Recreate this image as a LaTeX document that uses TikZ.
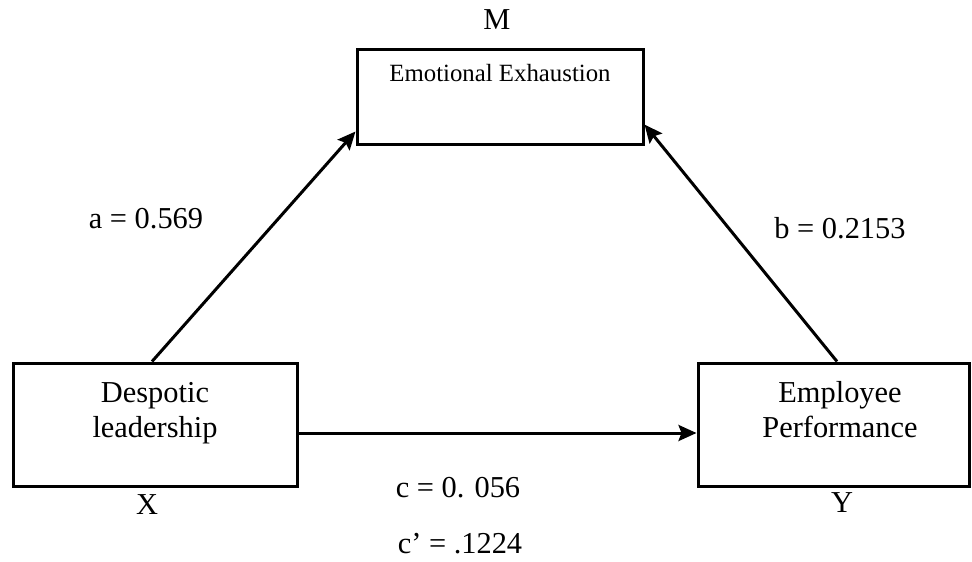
\documentclass[tikz,border=0pt]{standalone}
\usepackage{fontspec}
\setmainfont{Liberation Serif}
\usetikzlibrary{arrows.meta}
\usetikzlibrary{positioning}

\begin{document}
\begin{tikzpicture}[x=0.5pt, y=-0.5pt,
    varbox/.style={draw, line width=1.5pt, minimum width=142pt, minimum height=61.5pt, inner sep=0pt},
    boxtext/.style={align=center, font=\fontsize{15.2}{17.5}\selectfont, inner sep=0pt},
    lbl/.style={font=\fontsize{15.2}{17.5}\selectfont, inner sep=0pt},
    path/.style={-{Stealth[length=9pt,width=8pt,inset=1.5pt]}, line width=1.5pt}]
    \useasboundingbox (0,0) rectangle (972,561);

    % boxes
    \node[varbox] (dl) at (155,424.5) {};
    \node[varbox, minimum width=135.5pt] (ep) at (833.5,424.5) {};
    \node[varbox, minimum width=143pt, minimum height=47.5pt] (ee) at (500,97.5) {};

    \node[boxtext, below=10pt of dl.north] (dltext) {Despotic\\leadership};
    \node[boxtext, below=10pt of ep.north, xshift=3.25pt] (eptext) {Employee\\Performance};
    \node[boxtext, font=\fontsize{12.4}{14}\selectfont, below=7.5pt of ee.north] (eetext) {Emotional Exhaustion};

    % paths
    \draw[path] ([xshift=-1.5pt]dl.north) -- ([yshift=7.5pt]ee.south west);
    \draw[path] ([xshift=1.75pt]ep.north) -- ([yshift=11pt]ee.south east);
    \draw[path] ([yshift=-4.25pt]dl.east) -- ([yshift=-4.25pt]ep.west);

    % labels
    \node[lbl] (m) at (497,20) {M};
    \node[lbl] (x) at (147,505) {X};
    \node[lbl] (y) at (842,503) {Y};
    \node[lbl] (a) at (146,219) {a = 0.569};
    \node[lbl] (b) at (840,228) {b = 0.2153};
    \node[lbl] (c) at (458,488) {c = 0. 056};
    \node[lbl] (cp) at (460,544) {c’ = .1224};
\end{tikzpicture}
\end{document}
